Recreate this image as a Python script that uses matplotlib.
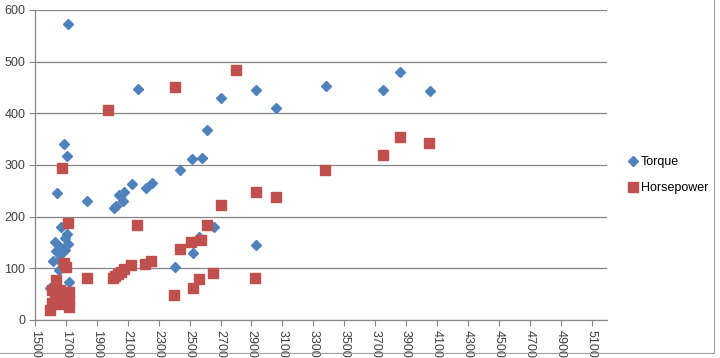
import matplotlib
matplotlib.use("Agg")
import matplotlib.pyplot as plt
from matplotlib.lines import Line2D

plt.rcParams['font.family'] = ['Liberation Sans', 'DejaVu Sans']

# Torque points (engine size, torque)
torque_x = [1713, 1685, 1705, 1642, 1836, 2008, 2025, 2045, 2067, 2077,
            2125, 2217, 2254, 2165, 2439, 2514, 2579, 2615, 2706, 2930,
            3061, 3380, 3752, 3860, 4052, 2404, 2525, 2562, 2658, 2928,
            1668, 1707, 1696, 1631, 1711, 1660, 1636, 1696, 1663, 1616,
            1657, 1653, 1718, 1599]
torque_y = [572, 340, 318, 246, 230, 216, 220, 242, 231, 248,
            264, 256, 266, 447, 291, 311, 314, 368, 430, 445,
            410, 452, 445, 480, 443, 103, 129, 160, 180, 146,
            180, 166, 158, 150, 148, 141, 134, 135, 126, 114,
            116, 97, 74, 62]

# Horsepower points
hp_x = [1674, 1970, 2404, 2799, 3375, 3750, 3858, 4050, 2928, 3061,
        2706, 2615, 2163, 1711, 2572, 2512, 2437, 2654, 2562, 2523,
        2400, 2923, 2249, 2212, 2120, 2073, 2056, 2038, 2019, 2002,
        1834, 1689, 1702, 1638, 1610, 1663, 1718, 1631, 1685, 1718,
        1610, 1663, 1718, 1599]
hp_y = [295, 407, 450, 483, 291, 320, 355, 342, 248, 239,
        222, 183, 184, 187, 155, 150, 137, 91, 79, 62,
        48, 82, 114, 108, 106, 99, 93, 90, 85, 82,
        81, 111, 103, 77, 58, 58, 55, 45, 42, 39,
        32, 31, 26, 19]

x_ticks = list(range(1500, 5101, 200))
y_ticks = [0, 100, 200, 300, 400, 500, 600]

blue = '#4F81BD'
red = '#C0504D'
grey = '#868686'

fig = plt.figure(figsize=(7.2, 3.58), dpi=100)
ax = fig.add_axes([35/720, 1-320/358, (607-35)/720, 310/358])

ax.plot(torque_x, torque_y, linestyle='none', marker='D', markersize=5.2,
        color=blue, label='Torque', zorder=3)
ax.plot(hp_x, hp_y, linestyle='none', marker='s', markersize=6.5,
        color=red, label='Horsepower', zorder=3)

ax.set_xlim(1500, 5200)
ax.set_ylim(0, 600)
ax.set_xticks(x_ticks)
ax.set_yticks(y_ticks)
ax.set_xticklabels([str(v) for v in x_ticks], rotation=-90, fontsize=9, color='#404040')
ax.set_yticklabels([str(v) for v in y_ticks], fontsize=9, color='#404040')
ax.tick_params(axis='both', length=4, color=grey, width=0.8, pad=3)

ax.yaxis.grid(True, color=grey, linewidth=0.9)
ax.set_axisbelow(True)
for s in ['top', 'right']:
    ax.spines[s].set_visible(False)
for s in ['left', 'bottom']:
    ax.spines[s].set_color(grey)
    ax.spines[s].set_linewidth(0.9)

fig.legend(loc='center left', bbox_to_anchor=(617/720, 1-175/358),
           frameon=False, fontsize=9, handlelength=0.8, handletextpad=0.2,
           labelspacing=1.1)

# outer chart frame (right and bottom edges visible)
fig.add_artist(Line2D([714/720, 714/720], [1-353/358, 1], transform=fig.transFigure,
                      color='#a0a0a0', linewidth=0.8))
fig.add_artist(Line2D([0, 714/720], [1-353/358, 1-353/358], transform=fig.transFigure,
                      color='#a0a0a0', linewidth=0.8))

plt.savefig('out.png', dpi=100)
